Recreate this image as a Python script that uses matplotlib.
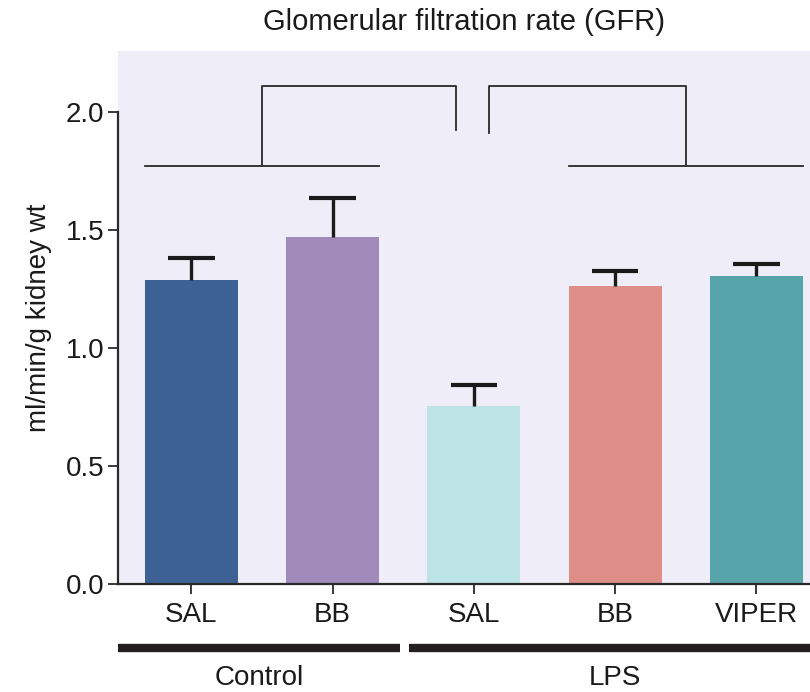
import matplotlib
matplotlib.use("Agg")
import matplotlib.pyplot as plt
import matplotlib.transforms as mtransforms

plt.rcParams['font.family'] = ['Liberation Sans', 'DejaVu Sans']

# GFR data
grupos = ['SAL', 'BB', 'SAL', 'BB', 'VIPER']
gfr = [1.29, 1.47, 0.755, 1.265, 1.305]
error = [0.09, 0.165, 0.09, 0.062, 0.052]
colores = ['#3d6194', '#a08aba', '#bce3e5', '#de8e87', '#57a4ab']

fig = plt.figure(figsize=(8.1, 6.92), dpi=100)
ax = fig.add_axes([0.1457, 0.156, 0.8543, 0.770])
ax.set_facecolor('#efedf7')

x = list(range(len(grupos)))
ax.bar(x, gfr, width=0.66, color=colores, zorder=2)

# only the upper half of each error bar
tope = [g + e for g, e in zip(gfr, error)]
ax.vlines(x, gfr, tope, color='#1a1a1a', lw=2.4, zorder=3)
ax.hlines(tope, [xi - 0.165 for xi in x], [xi + 0.165 for xi in x],
          color='#1a1a1a', lw=3.0, zorder=3)

ax.set_xlim(-0.52, 4.38)
ax.set_ylim(0, 2.258)
ax.set_yticks([0.0, 0.5, 1.0, 1.5, 2.0])
ax.set_yticklabels(['0.0', '0.5', '1.0', '1.5', '2.0'])
ax.set_xticks(x)
ax.set_xticklabels(grupos)
ax.tick_params(axis='both', labelsize=20, direction='out', length=7, width=1.3,
               color='#2a2a2a', labelcolor='#1a1a1a')
ax.tick_params(axis='x', pad=6)
ax.tick_params(axis='y', pad=3)
for s in ['top', 'right']:
    ax.spines[s].set_visible(False)
for s in ['left', 'bottom']:
    ax.spines[s].set_linewidth(1.6)
    ax.spines[s].set_color('#2a2a2a')
ax.spines['left'].set_bounds(0, 2.0)

ax.set_ylabel('ml/min/g kidney wt', fontsize=20, labelpad=10, color='#1a1a1a')
ax.set_title('Glomerular filtration rate (GFR)', fontsize=21, pad=15, color='#1a1a1a')

# significance brackets
lw = 1.3
c = '#2a2a2a'
ax.plot([-0.33, 1.33], [1.771, 1.771], color=c, lw=lw)
ax.plot([2.67, 4.33], [1.771, 1.771], color=c, lw=lw)
ax.plot([0.5, 0.5, 1.87, 1.87], [1.771, 2.11, 2.11, 1.924], color=c, lw=lw)
ax.plot([2.11, 2.11, 3.5, 3.5], [1.911, 2.11, 2.11, 1.771], color=c, lw=lw)

# treatment group bars under the axis
trans = mtransforms.blended_transform_factory(ax.transData, ax.transAxes)
ax.plot([-0.52, 1.475], [-0.12, -0.12], color='#231f20', lw=6, transform=trans,
        clip_on=False, solid_capstyle='butt')
ax.plot([1.54, 4.4], [-0.12, -0.12], color='#231f20', lw=6, transform=trans,
        clip_on=False, solid_capstyle='butt')
ax.text(0.48, -0.177, 'Control', transform=trans, ha='center', va='center',
        fontsize=20, color='#1a1a1a')
ax.text(3.0, -0.177, 'LPS', transform=trans, ha='center', va='center',
        fontsize=20, color='#1a1a1a')

plt.savefig('out.png', dpi=100)
